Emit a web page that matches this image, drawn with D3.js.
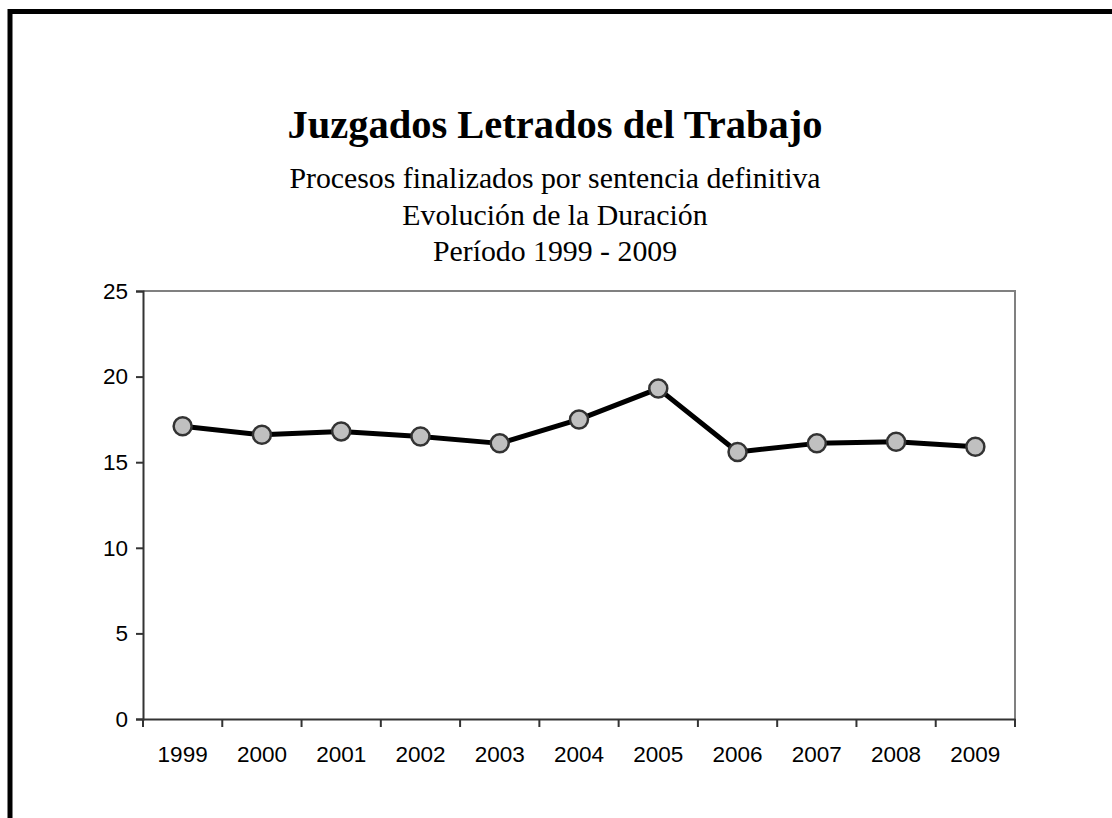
<!DOCTYPE html>
<html>
<head>
<meta charset="utf-8">
<script src="https://cdn.jsdelivr.net/npm/d3@7"></script>
<style>
  body { margin: 0; background: #fff; }
  svg { display: block; }
</style>
</head>
<body>
<div id="chart"></div>
<script>
// data
var years = ["1999", "2000", "2001", "2002", "2003", "2004", "2005", "2006", "2007", "2008", "2009"];
var duracion = [17.1, 16.6, 16.8, 16.5, 16.1, 17.5, 19.3, 15.6, 16.1, 16.2, 15.9];
var yTicks = [0, 5, 10, 15, 20, 25];
var titleText = "Juzgados Letrados del Trabajo";
var subtitleLines = ["Procesos finalizados por sentencia definitiva", "Evolución de la Duración", "Período 1999 - 2009"];

var W = 1112, H = 818;
var margin = {top: 291, right: 97, bottom: 99, left: 143},
    width = W - margin.left - margin.right,
    height = H - margin.top - margin.bottom;

var svg = d3.select("#chart")
  .append("svg")
    .attr("width", W)
    .attr("height", H);

// outer frame (runs off the right and bottom of the window)
svg.append("rect")
    .attr("x", 10)
    .attr("y", 11.5)
    .attr("width", W + 20)
    .attr("height", H + 20)
    .attr("fill", "none")
    .attr("stroke", "#000")
    .attr("stroke-width", 5);

// titles
svg.append("text")
    .attr("x", 555)
    .attr("y", 138)
    .attr("text-anchor", "middle")
    .style("font-family", "'Liberation Serif', 'Times New Roman', serif")
    .style("font-weight", "bold")
    .style("font-size", "40.5px")
    .text(titleText);

svg.selectAll(".sub")
  .data(subtitleLines)
  .enter()
  .append("text")
    .attr("class", "sub")
    .attr("x", 555)
    .attr("y", function(d, i) { return 188 + i * 36.5; })
    .attr("text-anchor", "middle")
    .style("font-family", "'Liberation Serif', 'Times New Roman', serif")
    .style("font-size", "29.8px")
    .text(function(d) { return d; });

var g = svg.append("g")
    .attr("transform", "translate(" + margin.left + "," + margin.top + ")");

var x = d3.scaleBand()
    .domain(years)
    .range([0, width]);

var y = d3.scaleLinear()
    .domain([0, 25])
    .range([height, 0]);

// grey top and right border of plot area
g.append("path")
    .attr("d", "M0,0H" + width + "V" + height)
    .attr("fill", "none")
    .attr("stroke", "#808080")
    .attr("stroke-width", 2);

// y axis
var yAxis = g.append("g")
    .call(d3.axisLeft(y).tickValues(yTicks).tickSize(7).tickPadding(8));

// x axis: ticks sit between the categories
var xAxis = g.append("g")
    .attr("transform", "translate(0," + height + ")")
    .call(d3.axisBottom(x).tickSize(0).tickPadding(27));

var bounds = years.map(function(d) { return x(d); }).concat([width]);
xAxis.selectAll(".sep")
  .data(bounds)
  .enter()
  .append("line")
    .attr("class", "sep")
    .attr("x1", function(d) { return d; })
    .attr("x2", function(d) { return d; })
    .attr("y1", 0)
    .attr("y2", 8)
    .attr("stroke", "#333")
    .attr("stroke-width", 2);

[yAxis, xAxis].forEach(function(a) {
  a.select(".domain").attr("stroke", "#333").attr("stroke-width", 2);
  a.selectAll(".tick line").attr("stroke", "#333").attr("stroke-width", 2);
  a.selectAll("text")
    .style("font-family", "'Liberation Sans', Arial, sans-serif")
    .style("font-size", "22.5px")
    .attr("fill", "#000");
});

// line
var line = d3.line()
    .x(function(d, i) { return x(years[i]) + x.bandwidth() / 2; })
    .y(function(d) { return y(d); });

g.append("path")
    .datum(duracion)
    .attr("d", line)
    .attr("fill", "none")
    .attr("stroke", "#000")
    .attr("stroke-width", 5)
    .attr("stroke-linejoin", "round");

g.selectAll(".dot")
  .data(duracion)
  .enter()
  .append("circle")
    .attr("class", "dot")
    .attr("cx", function(d, i) { return x(years[i]) + x.bandwidth() / 2; })
    .attr("cy", function(d) { return y(d); })
    .attr("r", 9)
    .attr("fill", "#c0c0c0")
    .attr("stroke", "#333")
    .attr("stroke-width", 2.5);
</script>
</body>
</html>
